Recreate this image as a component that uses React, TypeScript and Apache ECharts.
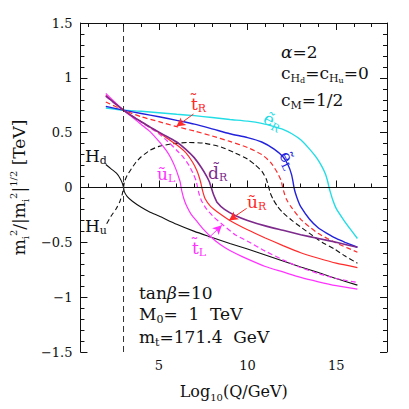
import React, { useEffect, useRef } from 'react';
import * as echarts from 'echarts';

// ---------- data ----------
const X_MIN = 0.57;
const X_MAX = 17.87;
const xMajorTicks = [5, 10, 15];
const xMinorTicks = [1, 2, 3, 4, 5, 6, 7, 8, 9, 10, 11, 12, 13, 14, 15, 16, 17];

// H_d (black solid)
const hdCurve = [
  [2.0, 0.21], [2.3, 0.17], [2.6, 0.13], [2.8, 0.085], [2.93, 0.04], [3.0, 0.0], [3.05, -0.04],
  [3.2, -0.08], [3.5, -0.125], [4.0, -0.18], [4.5, -0.225], [5.0, -0.26], [6.0, -0.335],
  [7.0, -0.4], [8.0, -0.455], [9.0, -0.51], [10.0, -0.56], [11.0, -0.615], [12.0, -0.67],
  [13.0, -0.725], [14.0, -0.775], [15.0, -0.83], [16.2, -0.89],
];
// H_u (black dashed)
const huCurve = [
  [2.05, -0.33], [2.3, -0.26], [2.6, -0.19], [2.8, -0.125], [2.93, -0.06], [3.0, 0.0], [3.05, 0.05],
  [3.2, 0.11], [3.4, 0.16], [3.7, 0.23], [4.0, 0.28], [4.5, 0.34], [5.0, 0.375], [5.8, 0.4],
  [6.6, 0.41], [7.5, 0.405], [8.5, 0.37], [9.3, 0.315], [10.0, 0.26], [10.4, 0.21], [10.8, 0.15],
  [11.05, 0.08], [11.2, 0.0], [11.28, -0.05], [11.45, -0.11], [11.7, -0.175], [12.0, -0.23],
  [12.5, -0.3], [13.0, -0.36], [13.6, -0.43], [14.2, -0.5], [14.9, -0.56], [15.5, -0.625], [16.2, -0.69],
];
// e_R (cyan)
const eRCurve = [
  [2.0, 0.725], [3.0, 0.705], [4.0, 0.695], [5.0, 0.682], [6.0, 0.668], [7.0, 0.655], [8.0, 0.638],
  [9.0, 0.62], [10.0, 0.605], [10.8, 0.585], [11.5, 0.555], [12.0, 0.53], [12.5, 0.49], [13.0, 0.435],
  [13.5, 0.35], [13.9, 0.27], [14.2, 0.19], [14.4, 0.12], [14.53, 0.05], [14.6, 0.0], [14.67, -0.04],
  [14.8, -0.11], [15.0, -0.19], [15.4, -0.29], [15.8, -0.38], [16.2, -0.465],
];
// e_L (blue)
const eLCurve = [
  [2.0, 0.74], [3.0, 0.705], [4.0, 0.675], [5.0, 0.645], [6.0, 0.612], [7.0, 0.578], [8.0, 0.535],
  [9.0, 0.49], [10.0, 0.455], [10.8, 0.415], [11.5, 0.35], [12.0, 0.28], [12.3, 0.2], [12.48, 0.12],
  [12.57, 0.05], [12.62, 0.0], [12.7, -0.05], [12.85, -0.12], [13.0, -0.175], [13.5, -0.29],
  [14.0, -0.37], [14.5, -0.42], [15.0, -0.465], [15.5, -0.5], [16.2, -0.545],
];
// t_R (red dashed)
const tRCurve = [
  [2.0, 0.78], [3.0, 0.705], [4.0, 0.645], [5.0, 0.6], [6.0, 0.555], [7.0, 0.515], [8.0, 0.47],
  [9.0, 0.42], [10.0, 0.365], [10.8, 0.3], [11.3, 0.23], [11.7, 0.13], [11.9, 0.06], [11.98, 0.0],
  [12.07, -0.05], [12.2, -0.11], [12.45, -0.175], [13.0, -0.29], [13.5, -0.36], [14.0, -0.42],
  [14.5, -0.465], [15.2, -0.52], [15.7, -0.555], [16.2, -0.59],
];
// u_L (magenta solid)
const uLCurve = [
  [2.0, 0.857], [2.5, 0.78], [3.0, 0.705], [3.5, 0.64], [4.0, 0.575], [4.5, 0.51], [5.0, 0.42],
  [5.4, 0.34], [5.7, 0.26], [5.95, 0.17], [6.1, 0.1], [6.2, 0.05], [6.25, 0.0], [6.3, -0.04],
  [6.4, -0.1], [6.55, -0.165], [6.8, -0.24], [7.1, -0.3], [7.5, -0.38], [8.0, -0.46], [8.5, -0.525],
  [9.0, -0.575], [9.7, -0.63], [11.0, -0.72], [12.0, -0.77], [13.0, -0.82], [14.0, -0.86],
  [15.0, -0.895], [16.2, -0.927],
];
// t_L (magenta dashed)
const tLCurve = [
  [2.0, 0.83], [2.5, 0.765], [3.0, 0.705], [3.5, 0.65], [4.0, 0.595], [4.5, 0.545], [5.0, 0.49],
  [5.5, 0.42], [6.0, 0.34], [6.4, 0.27], [6.7, 0.2], [6.95, 0.12], [7.1, 0.06], [7.18, 0.0],
  [7.25, -0.05], [7.4, -0.12], [7.7, -0.2], [8.1, -0.27], [8.6, -0.34], [9.3, -0.43], [10.0, -0.49],
  [11.0, -0.58], [12.0, -0.66], [13.0, -0.73], [14.0, -0.785], [15.0, -0.83], [16.2, -0.866],
];
// u_R (red solid)
const uRCurve = [
  [2.0, 0.84], [2.5, 0.77], [3.0, 0.705], [3.5, 0.65], [4.0, 0.6], [4.5, 0.55], [5.0, 0.5],
  [5.5, 0.445], [6.0, 0.39], [6.5, 0.32], [6.9, 0.23], [7.15, 0.15], [7.3, 0.08], [7.38, 0.03],
  [7.42, 0.0], [7.48, -0.04], [7.6, -0.1], [7.9, -0.17], [8.4, -0.235], [9.0, -0.3], [10.0, -0.385],
  [11.0, -0.46], [12.0, -0.53], [13.0, -0.595], [14.0, -0.645], [15.0, -0.69], [16.2, -0.73],
];
// d_R (purple)
const dRCurve = [
  [2.0, 0.835], [2.5, 0.77], [3.0, 0.705], [3.5, 0.65], [4.0, 0.6], [4.5, 0.55], [5.0, 0.505],
  [5.5, 0.46], [6.0, 0.415], [6.5, 0.35], [7.0, 0.27], [7.4, 0.18], [7.7, 0.1], [7.85, 0.05],
  [7.95, 0.0], [8.03, -0.04], [8.12, -0.08], [8.3, -0.14], [8.7, -0.2], [9.3, -0.255], [10.0, -0.3],
  [11.0, -0.35], [12.0, -0.39], [13.0, -0.43], [14.0, -0.465], [15.0, -0.5], [16.2, -0.545],
];

const zeroLine = [[X_MIN, 0], [X_MAX, 0]];
const refLine = [[3, -1.5], [3, 1.5]];

// arrows: [from, to]
const arrowTR = [[6.95, 0.67], [5.98, 0.556]];
const arrowUR = [[9.95, -0.19], [8.95, -0.3]];
const arrowTL = [[7.8, -0.46], [8.55, -0.345]];

const F = '"DejaVu Serif", serif';

const richBig = {
  n: { fontFamily: F, fontSize: 17, lineHeight: 22 },
  s: { fontFamily: F, fontSize: 11, lineHeight: 12, verticalAlign: 'bottom' as const },
  ss: { fontFamily: F, fontSize: 8, lineHeight: 6, verticalAlign: 'bottom' as const },
  g: { fontFamily: F, fontSize: 17, lineHeight: 22, fontStyle: 'italic' as const },
};
const richLab = {
  n: { fontFamily: F, fontSize: 17, lineHeight: 21 },
  s: { fontFamily: F, fontSize: 11, lineHeight: 10, verticalAlign: 'bottom' as const },
};

type Lab = { text: string; x: number; y: number; color: string; rich: any; rot?: number; center?: boolean };

const labels: Lab[] = [
  { text: '{g|\u03b1}{n|=2}', x: 281, y: 41, color: '#111', rich: richBig },
  { text: '{n|c}{s|H}{ss|d}{n|=c}{s|H}{ss|u}{n|=0}', x: 281, y: 62, color: '#111', rich: richBig },
  { text: '{n|c}{s|M}{n|=1/2}', x: 281, y: 89, color: '#111', rich: richBig },
  { text: '{n|tan}{g|\u03b2}{n|=10}', x: 139, y: 282, color: '#111', rich: richBig },
  { text: '{n|M}{s|0}{n|=  1  TeV}', x: 139, y: 303, color: '#111', rich: richBig },
  { text: '{n|m}{s|t}{n|=171.4  GeV}', x: 139, y: 326, color: '#111', rich: richBig },
  { text: '{n|H}{s|d}', x: 85, y: 145, color: '#111', rich: richLab },
  { text: '{n|H}{s|u}', x: 85, y: 215, color: '#111', rich: richLab },
  { text: '{n|t\u0303}{s|R}', x: 191, y: 93, color: '#ff2a2a', rich: richLab },
  { text: '{n|\u0169}{s|L}', x: 157, y: 163, color: '#ff33ff', rich: richLab },
  { text: '{n|d\u0303}{s|R}', x: 208, y: 162, color: '#7d2a8c', rich: richLab },
  { text: '{n|\u0169}{s|R}', x: 247, y: 191, color: '#ff2a2a', rich: richLab },
  { text: '{n|t\u0303}{s|L}', x: 192, y: 237, color: '#ff33ff', rich: richLab },
  { text: '{n|\u1ebd}{s|R}', x: 273, y: 121, color: '#22dde6', rich: richLab, rot: -28, center: true },
  { text: '{n|\u1ebd}{s|L}', x: 288, y: 160, color: '#2222dd', rich: richLab, rot: -65, center: true },
];

export default function App() {
  const ref = useRef<HTMLDivElement>(null);
  useEffect(() => {
    if (!ref.current) return;
    const chart = echarts.init(ref.current, undefined, { renderer: 'svg' });
    const black = '#111';
    const mkX = (pos: 'bottom' | 'top', vals: number[], len: number, line: boolean, lab: boolean, name?: string) => ({
      type: 'value', min: X_MIN, max: X_MAX, position: pos,
      axisLine: { show: line, lineStyle: { color: black, width: 1 } },
      axisTick: { show: true, inside: true, length: len, customValues: vals, lineStyle: { color: black, width: 1 } },
      axisLabel: lab ? { show: true, customValues: xMajorTicks, color: black, fontFamily: F, fontSize: 13, margin: 7 } : { show: false },
      splitLine: { show: false },
      name: name || '',
      nameLocation: 'middle', nameGap: 29,
      nameTextStyle: { color: black, rich: {
        n: { fontFamily: F, fontSize: 16, lineHeight: 21, color: black },
        s: { fontFamily: F, fontSize: 10, lineHeight: 10, verticalAlign: 'bottom', color: black },
      } },
    });
    const mkY = (pos: 'left' | 'right', lab: boolean, name?: string) => ({
      type: 'value', min: -1.5, max: 1.5, interval: 0.5, position: pos,
      axisLine: { show: true, lineStyle: { color: black, width: 1 } },
      axisTick: { show: true, inside: true, length: 7, lineStyle: { color: black, width: 1 } },
      minorTick: { show: true, splitNumber: 5, length: 4, lineStyle: { color: black, width: 1 } },
      axisLabel: lab ? {
        show: true, color: black, fontFamily: F, fontSize: 13, margin: 8,
        formatter: (v: number) => (v < 0 ? '\u2212' + Math.abs(v) : String(v)),
      } : { show: false },
      splitLine: { show: false },
      name: name || '', nameLocation: 'middle', nameGap: 50, nameRotate: 90,
      nameTextStyle: { color: black, rich: {
        n: { fontFamily: F, fontSize: 17, lineHeight: 22, color: black },
        s: { fontFamily: F, fontSize: 10, lineHeight: 10, verticalAlign: 'bottom', color: black },
        p: { fontFamily: F, fontSize: 10, lineHeight: 8, verticalAlign: 'top', color: black },
      } },
    });

    const curve = (data: number[][], color: string, dashed: boolean, width = 1.2, z = 2) => ({
      type: 'line', data, showSymbol: false, symbol: 'none', smooth: 0.2, z,
      xAxisIndex: 0, yAxisIndex: 0, silent: true,
      lineStyle: { color, width, type: dashed ? [5, 3] : 'solid' },
    });
    const arrow = (seg: number[][], color: string) => ({
      type: 'line', data: [], xAxisIndex: 0, yAxisIndex: 0, silent: true,
      markLine: {
        silent: true, symbol: ['none', 'arrow'], symbolSize: [7, 9], animation: false,
        label: { show: false },
        lineStyle: { color, width: 1, type: 'solid' },
        data: [[{ coord: seg[0] }, { coord: seg[1] }]],
      },
    });

    chart.setOption({
      animation: false,
      backgroundColor: '#fff',
      grid: { left: 76, right: 22, top: 23, bottom: 57, containLabel: false },
      xAxis: [
        mkX('bottom', xMajorTicks, 7, true, true, '{n|Log}{s|10}{n|(Q/GeV)}'),
        mkX('bottom', xMinorTicks, 4, false, false),
        mkX('top', xMajorTicks, 7, true, false),
        mkX('top', xMinorTicks, 4, false, false),
      ],
      yAxis: [
        mkY('left', true, '{n|m}{s|i}{p|2}{n|/|m}{s|i}{p|2}{n||}{p|1/2}{n| [TeV]}'),
        mkY('right', false),
      ],
      series: [
        { type: 'line', data: zeroLine, showSymbol: false, symbol: 'none', silent: true, lineStyle: { color: black, width: 1 } },
        { type: 'line', data: refLine, showSymbol: false, symbol: 'none', silent: true, lineStyle: { color: '#333', width: 1, type: [6, 4] } },
        curve(hdCurve, black, false, 1.1),
        curve(huCurve, black, true, 1.1),
        curve(eRCurve, '#22dde6', false, 1.4),
        curve(eLCurve, '#2222dd', false, 1.4),
        curve(tRCurve, '#ff2a2a', true, 1.2),
        curve(uLCurve, '#ff33ff', false, 1.2),
        curve(tLCurve, '#ff33ff', true, 1.2),
        curve(uRCurve, '#ff2a2a', false, 1.2),
        curve(dRCurve, '#7d2a8c', false, 1.6),
        arrow(arrowTR, '#ff2a2a'),
        arrow(arrowUR, '#ff2a2a'),
        arrow(arrowTL, '#ff33ff'),
      ],
      graphic: labels.map((l) => ({
        type: 'text', x: l.x, y: l.y, rotation: l.rot ? (l.rot * Math.PI) / 180 : 0, silent: true, z: 100,
        style: {
          text: l.text, fill: l.color, rich: l.rich,
          align: l.center ? 'center' : 'left', verticalAlign: l.center ? 'middle' : 'top',
        },
      })),
    });
    return () => chart.dispose();
  }, []);
  return <div ref={ref} style={{ position: 'fixed', left: 0, top: 0, width: 409, height: 409 }} />;
}
